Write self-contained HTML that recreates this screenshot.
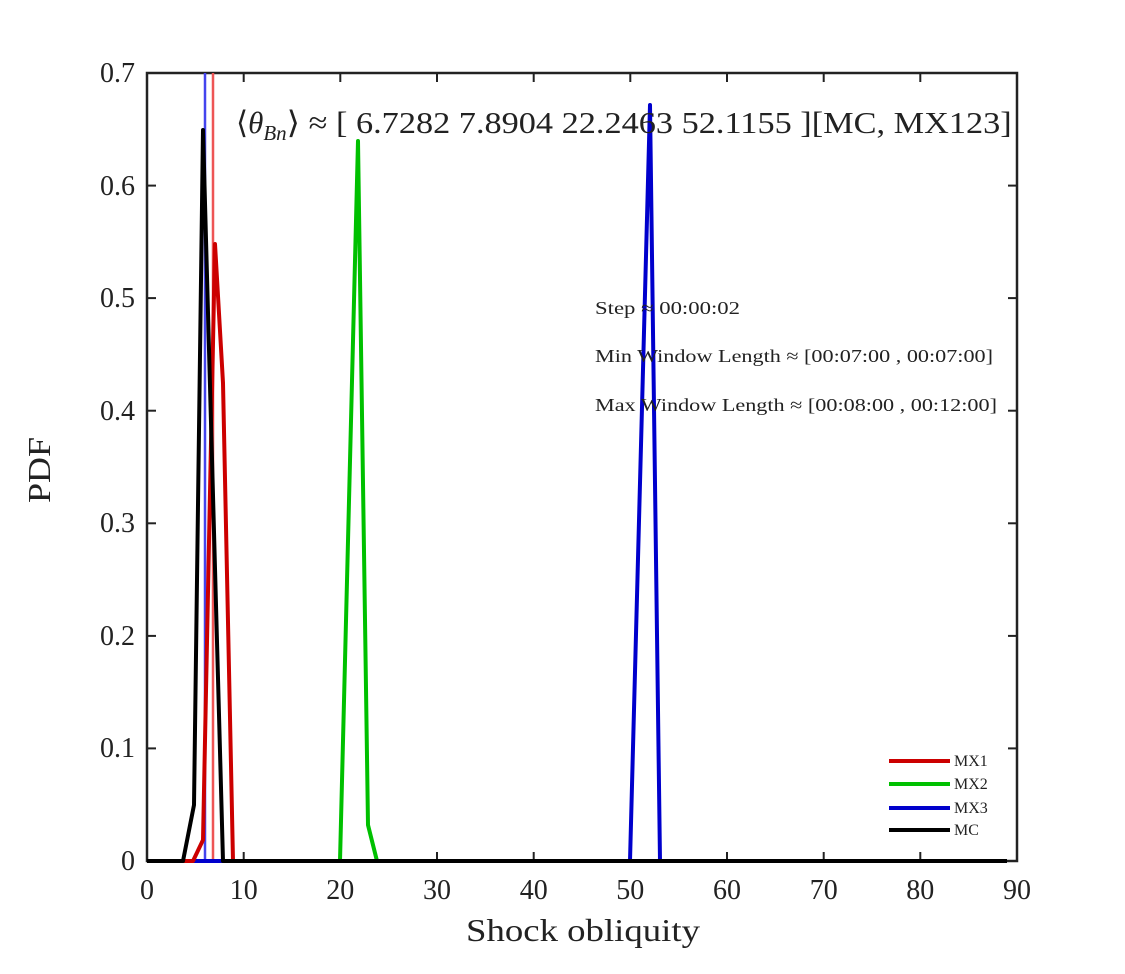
<!DOCTYPE html>
<html><head><style>body{margin:0;background:#fff}svg text{font-family:"Liberation Serif",serif;fill:#222}</style></head><body>
<svg width="1125" height="969" xmlns="http://www.w3.org/2000/svg">
<rect width="1125" height="969" fill="#fff"/>
<g stroke="#222" stroke-width="2.5" fill="none">
<rect x="147" y="73" width="870" height="788"/>
</g>
<g stroke="#222" stroke-width="2">
<line x1="243.7" y1="861" x2="243.7" y2="852"/><line x1="340.3" y1="861" x2="340.3" y2="852"/><line x1="437" y1="861" x2="437" y2="852"/><line x1="533.7" y1="861" x2="533.7" y2="852"/><line x1="630.3" y1="861" x2="630.3" y2="852"/><line x1="727" y1="861" x2="727" y2="852"/><line x1="823.7" y1="861" x2="823.7" y2="852"/><line x1="920.3" y1="861" x2="920.3" y2="852"/>
<line x1="243.7" y1="73" x2="243.7" y2="82"/><line x1="340.3" y1="73" x2="340.3" y2="82"/><line x1="437" y1="73" x2="437" y2="82"/><line x1="533.7" y1="73" x2="533.7" y2="82"/><line x1="630.3" y1="73" x2="630.3" y2="82"/><line x1="727" y1="73" x2="727" y2="82"/><line x1="823.7" y1="73" x2="823.7" y2="82"/><line x1="920.3" y1="73" x2="920.3" y2="82"/>
<line x1="147" y1="748.4" x2="156" y2="748.4"/><line x1="147" y1="635.9" x2="156" y2="635.9"/><line x1="147" y1="523.3" x2="156" y2="523.3"/><line x1="147" y1="410.7" x2="156" y2="410.7"/><line x1="147" y1="298.1" x2="156" y2="298.1"/><line x1="147" y1="185.6" x2="156" y2="185.6"/>
<line x1="1017" y1="748.4" x2="1008" y2="748.4"/><line x1="1017" y1="635.9" x2="1008" y2="635.9"/><line x1="1017" y1="523.3" x2="1008" y2="523.3"/><line x1="1017" y1="410.7" x2="1008" y2="410.7"/><line x1="1017" y1="298.1" x2="1008" y2="298.1"/><line x1="1017" y1="185.6" x2="1008" y2="185.6"/>
</g>
<g font-size="28" text-anchor="middle">
<text x="147" y="899">0</text><text x="243.7" y="899">10</text><text x="340.3" y="899">20</text><text x="437" y="899">30</text><text x="533.7" y="899">40</text><text x="630.3" y="899">50</text><text x="727" y="899">60</text><text x="823.7" y="899">70</text><text x="1017" y="899">90</text><text x="920.3" y="899">80</text>
</g>
<g font-size="28" text-anchor="end">
<text x="135" y="870">0</text><text x="135" y="757">0.1</text><text x="135" y="645">0.2</text><text x="135" y="532">0.3</text><text x="135" y="420">0.4</text><text x="135" y="307">0.5</text><text x="135" y="195">0.6</text><text x="135" y="82">0.7</text>
</g>
<text x="466" y="941" font-size="32" textLength="234" lengthAdjust="spacingAndGlyphs">Shock obliquity</text>
<text transform="translate(50,503) rotate(-90)" font-size="32" textLength="66" lengthAdjust="spacingAndGlyphs">PDF</text>
<line x1="205" y1="73" x2="205" y2="861" stroke="#4444ee" stroke-width="2.5"/>
<line x1="213" y1="73" x2="213" y2="861" stroke="#ee5555" stroke-width="2.5"/>
<g fill="none" stroke-width="4" stroke-linejoin="round">
<polyline stroke="#00c000" points="147,861 340,861 358,141 368,825 377,861 1007,861"/>
<polyline stroke="#0000cc" points="147,861 630,861 650,105 660,861 1007,861"/>
<polyline stroke="#cc0000" points="147,861 193,861 203,840 215,244 223,383 233,861 1007,861"/>
<polyline stroke="#000" points="147,861 183,861 194,805 203,130 223,861 1007,861"/>
</g>
<text x="236" y="133" font-size="31">⟨<tspan font-style="italic">θ</tspan><tspan font-size="21" dy="7" font-style="italic">Bn</tspan><tspan dy="-7" textLength="725" lengthAdjust="spacingAndGlyphs">⟩ ≈ [ 6.7282 7.8904 22.2463 52.1155 ][MC, MX123]</tspan></text>
<g font-size="18">
<text x="595" y="314" textLength="145" lengthAdjust="spacingAndGlyphs">Step ≈ 00:00:02</text>
<text x="595" y="362" textLength="398" lengthAdjust="spacingAndGlyphs">Min Window Length ≈ [00:07:00 , 00:07:00]</text>
<text x="595" y="411" textLength="402" lengthAdjust="spacingAndGlyphs">Max Window Length ≈ [00:08:00 , 00:12:00]</text>
</g>
<g stroke-width="4">
<line x1="889" y1="761" x2="950" y2="761" stroke="#cc0000"/>
<line x1="889" y1="784" x2="950" y2="784" stroke="#00c000"/>
<line x1="889" y1="808" x2="950" y2="808" stroke="#0000cc"/>
<line x1="889" y1="830" x2="950" y2="830" stroke="#000"/>
</g>
<g font-size="16">
<text x="954" y="766">MX1</text><text x="954" y="789">MX2</text><text x="954" y="813">MX3</text><text x="954" y="835">MC</text>
</g>
</svg>
</body></html>
